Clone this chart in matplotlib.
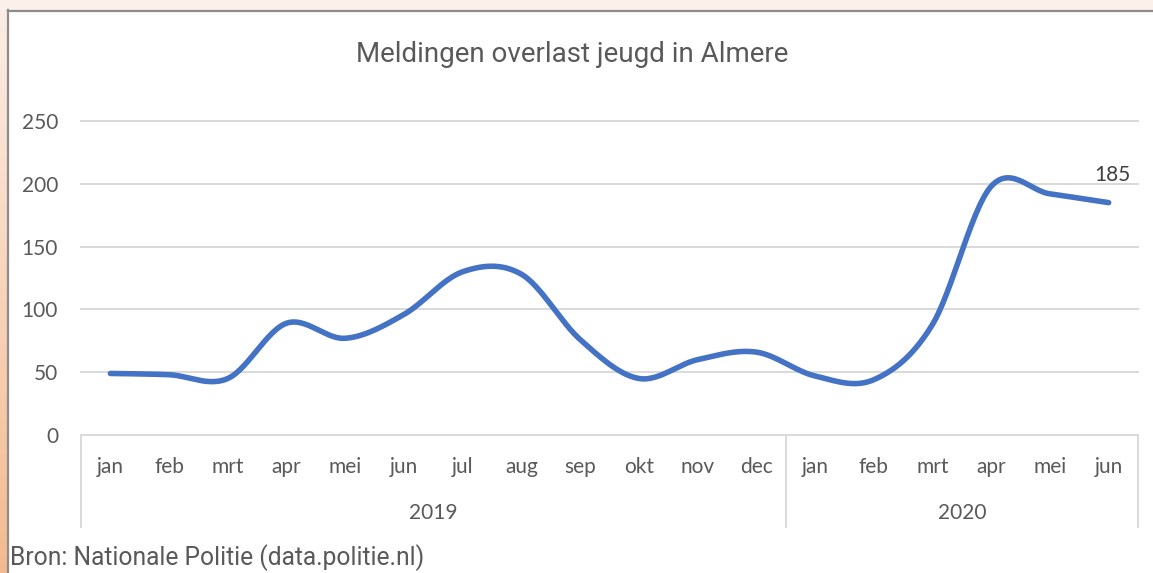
import numpy as np
import matplotlib
matplotlib.use("Agg")
import matplotlib.pyplot as plt
from matplotlib.transforms import blended_transform_factory
from matplotlib.patches import Rectangle
from matplotlib.lines import Line2D

# data
months = ['jan', 'feb', 'mrt', 'apr', 'mei', 'jun', 'jul', 'aug', 'sep', 'okt', 'nov', 'dec',
          'jan', 'feb', 'mrt', 'apr', 'mei', 'jun']
years = ['2019', '2020']
year_sizes = [12, 6]
meldingen = [49, 48, 45, 89, 77, 96, 130, 128, 76, 45, 60, 66, 47, 44, 88, 198, 192, 185]
yticks = [0, 50, 100, 150, 200, 250]

W, H = 1153, 573
grey = '#595959'
gridc = '#d9d9d9'
tickfont = 'Lato'
titlefont = 'Roboto'
fs = 15


def smooth(y, n=30):
    # Excel-achtige gladde lijn (Catmull-Rom als Bezier)
    y = np.asarray(y, dtype=float)
    x = np.arange(len(y), dtype=float)
    p = np.column_stack([x, y])
    p = np.vstack([p[0], p, p[-1]])
    t = np.linspace(0, 1, n)[:, None]
    out = []
    for i in range(1, len(p) - 2):
        p0, p1, p2, p3 = p[i - 1], p[i], p[i + 1], p[i + 2]
        c1 = p1 + (p2 - p0) / 6
        c2 = p2 - (p3 - p1) / 6
        seg = ((1 - t) ** 3) * p1 + 3 * ((1 - t) ** 2) * t * c1 + 3 * (1 - t) * t ** 2 * c2 + t ** 3 * p2
        out.append(seg if i == 1 else seg[1:])
    out = np.vstack(out)
    return out[:, 0], out[:, 1]


fig = plt.figure(figsize=(W / 100, H / 100), dpi=100)
fig.patch.set_facecolor('white')

# achtergrond rand links (verloop) en boven
bg = fig.add_axes([0, 0, 1, 1], zorder=-10)
bg.set_xlim(0, W)
bg.set_ylim(H, 0)
bg.axis('off')
grad = np.linspace(0, 1, 256)[:, None, None]
top_c = np.array([0.985, 0.935, 0.905])
bot_c = np.array([0.960, 0.730, 0.560])
img = top_c * (1 - grad) + bot_c * grad
bg.imshow(img, extent=[0, 7.5, H, 0], aspect='auto')
bg.add_patch(Rectangle((0, 0), W, 10, color='#fcf1ea', lw=0))
bg.plot([8, 8], [10, H], color='#8c8c8c', lw=1.6)
bg.plot([8, W], [10.5, 10.5], color='#8c8c8c', lw=1.6)

ax = fig.add_axes([81 / W, (H - 435) / H, (1138 - 81) / W, (435 - 121) / H])
ax.set_xlim(-0.5, len(months) - 0.5)
ax.set_ylim(0, 250)
for s in ax.spines.values():
    s.set_visible(False)
ax.set_yticks(yticks)
ax.set_yticklabels([str(v) for v in yticks], fontsize=fs, color=grey, family=tickfont)
ax.tick_params(axis='y', length=0, pad=16.5)
ax.set_xticks(range(len(months)))
ax.set_xticklabels(months, fontsize=fs, color=grey, family=tickfont)
ax.tick_params(axis='x', length=0, pad=16)
for v in yticks:
    ax.axhline(v, color=gridc, lw=1.4, zorder=0, clip_on=False)

xs, ys = smooth(meldingen)
ax.plot(xs, ys, color='#4472C4', lw=4, solid_capstyle='round', zorder=3, clip_on=False)
ax.annotate(str(meldingen[-1]), (len(months) - 1, meldingen[-1]), xytext=(3, 20),
            textcoords='offset points', ha='center', va='center', fontsize=fs,
            color='#404040', family=tickfont)

# categorie-as met jaren
tr = blended_transform_factory(ax.transData, fig.transFigure)
y_top = (H - 435) / H
y_bot = (H - 527) / H
edges = [-0.5]
for n in year_sizes:
    edges.append(edges[-1] + n)
for e in edges:
    fig.add_artist(Line2D([e, e], [y_bot, y_top], transform=tr, color=gridc, lw=1.4))
for i, yr in enumerate(years):
    mid = (edges[i] + edges[i + 1]) / 2
    fig.text(mid, (H - 513) / H, yr, transform=tr, ha='center', va='center',
             fontsize=fs, color=grey, family=tickfont)

fig.text(572 / W, (H - 54) / H, 'Meldingen overlast jeugd in Almere', ha='center', va='center',
         fontsize=20, color=grey, family=titlefont)
fig.text(10 / W, (H - 558) / H, 'Bron: Nationale Politie (data.politie.nl)', ha='left', va='center',
         fontsize=17.7, color=grey, family=titlefont)

fig.savefig('out.png', dpi=100)
